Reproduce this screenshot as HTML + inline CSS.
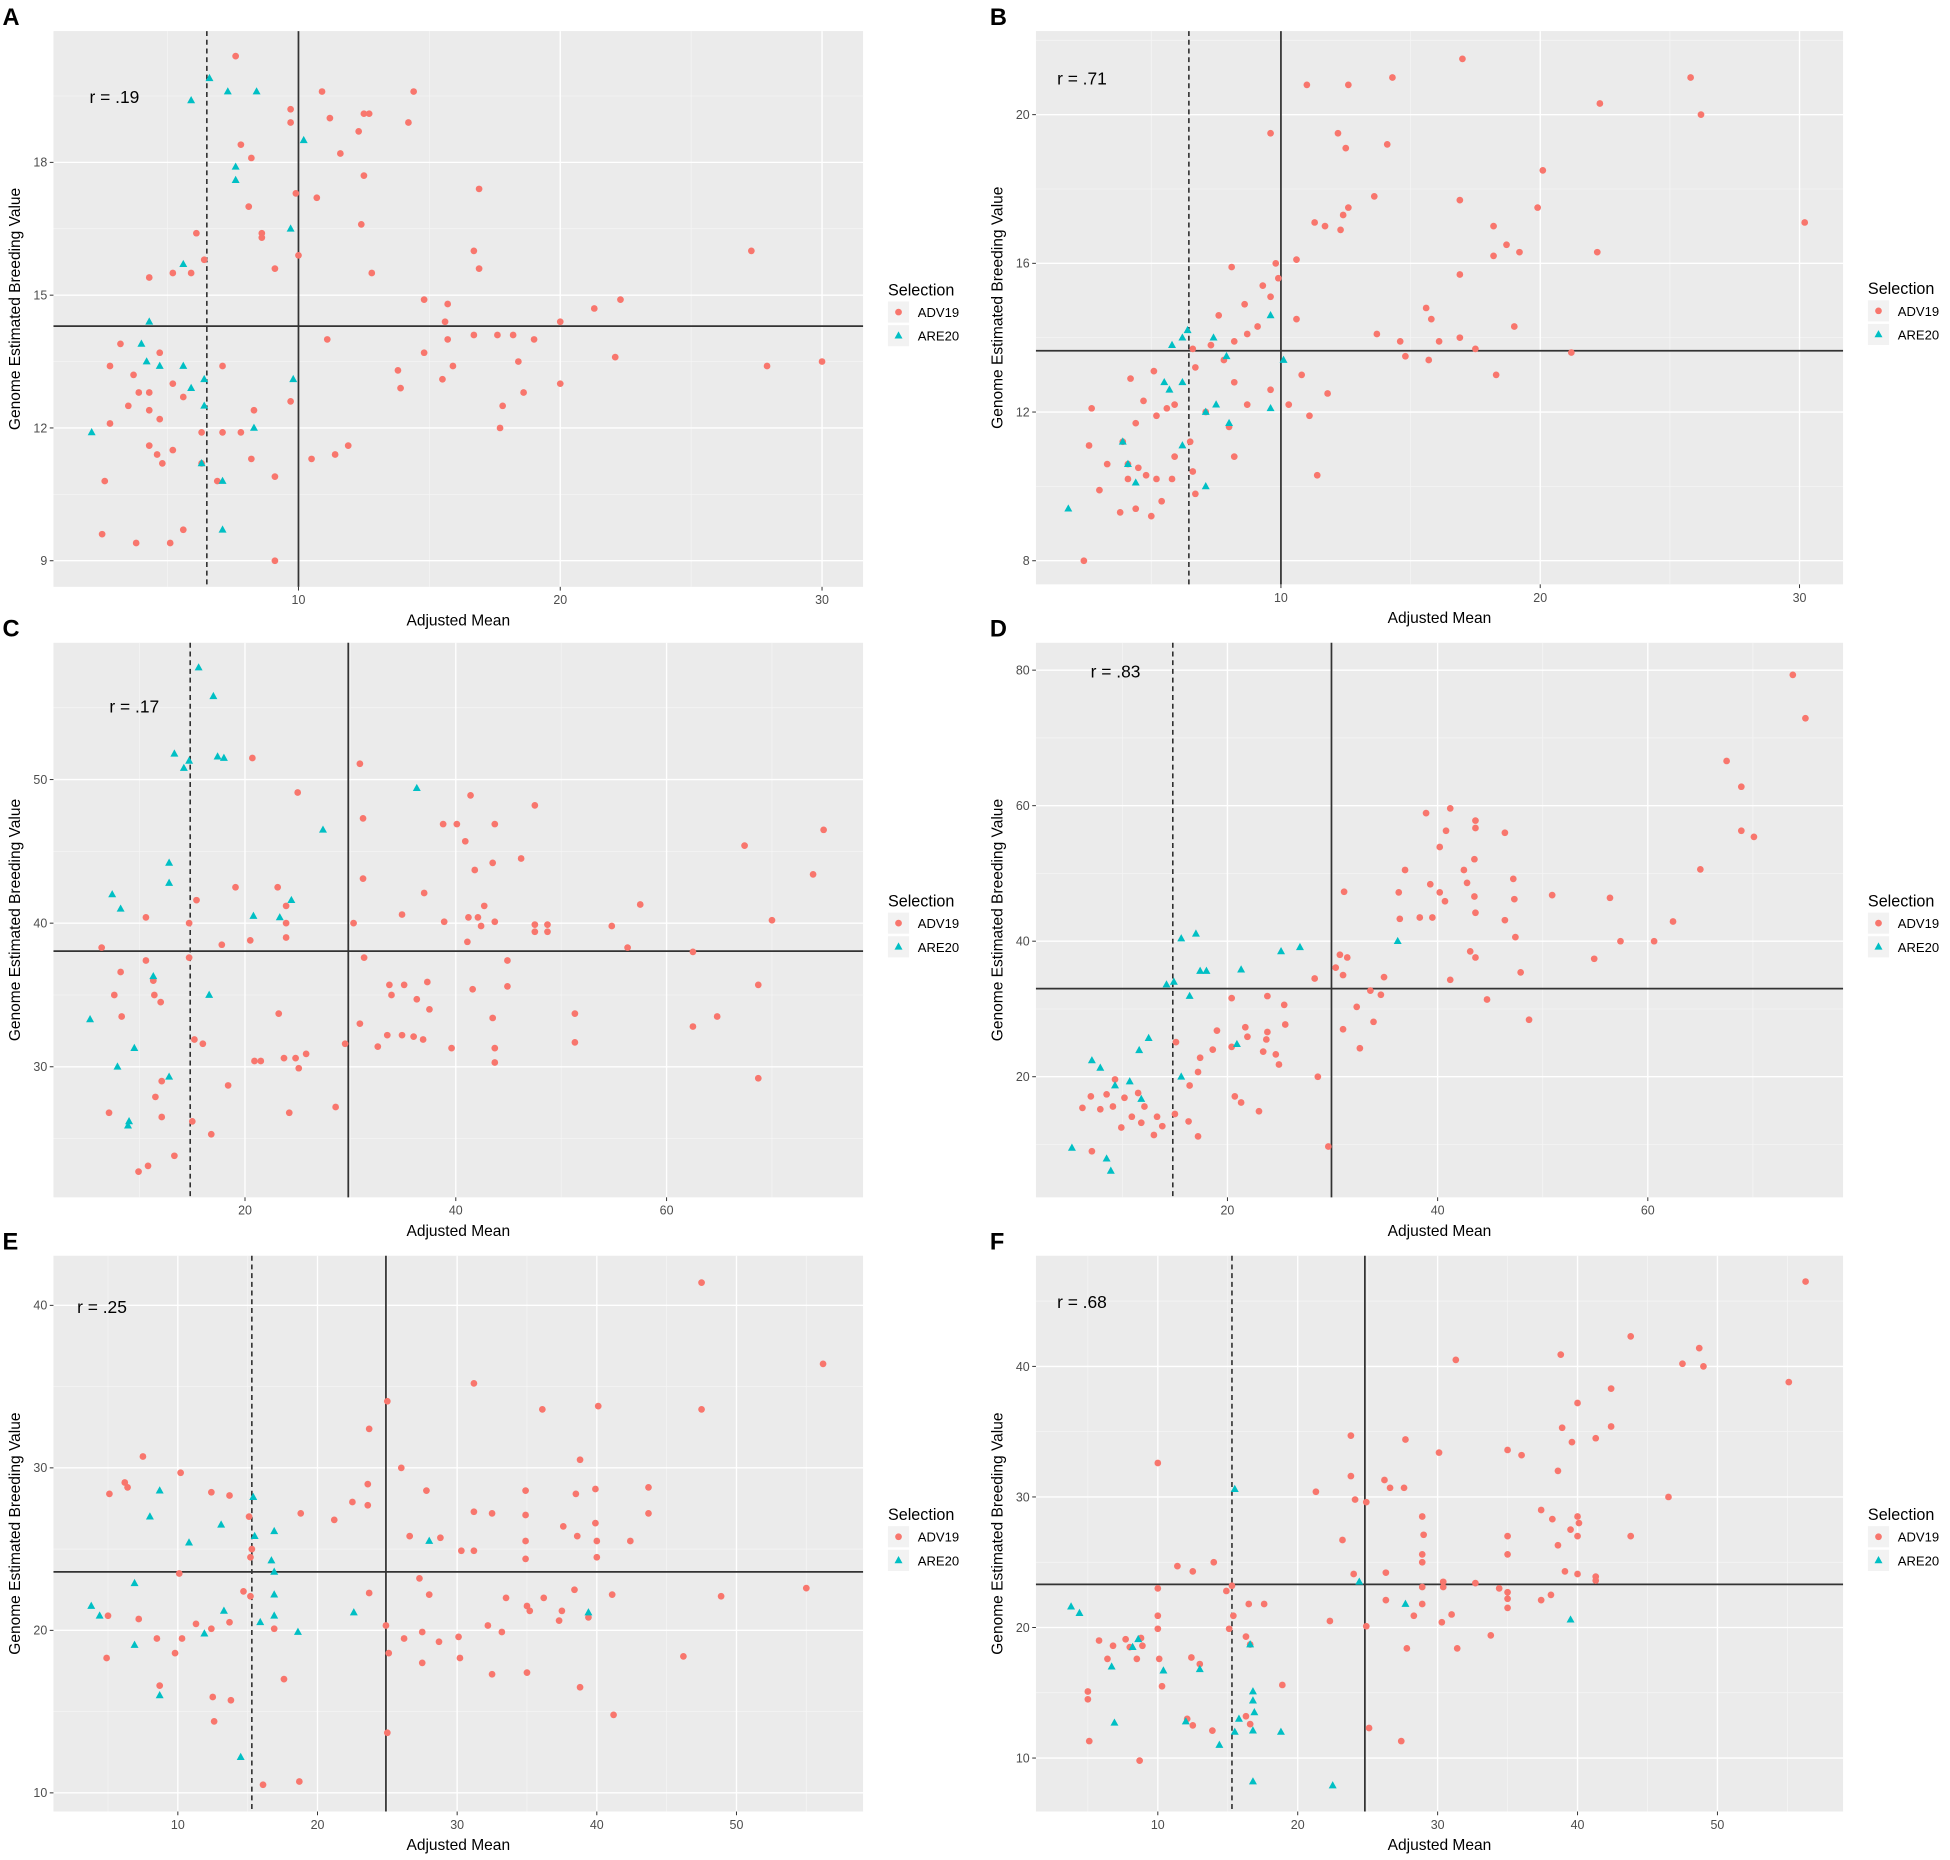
<!DOCTYPE html>
<html><head><meta charset="utf-8">
<style>
html,body{margin:0;padding:0;background:#fff;}
svg{display:block;font-family:"Liberation Sans",Arial,sans-serif;}
</style></head>
<body>
<svg id="fig" width="1950" height="1860" viewBox="0 0 1568 1496" preserveAspectRatio="none" xmlns="http://www.w3.org/2000/svg"></svg>
<script>
// ---------- DATA ----------
const A_adv=[[7.6,20.4],[10.9,19.6],[14.4,19.6],[12.5,19.1],[9.7,19.2],[11.2,19.0],[12.7,19.1],[12.3,18.7],[14.2,18.9],[7.8,18.4],[9.7,18.9],[11.6,18.2],[8.2,18.1],[9.9,17.3],[10.7,17.2],[16.9,17.4],[12.5,17.7],[8.1,17.0],[12.4,16.6],[8.6,16.4],[8.6,16.3],[6.1,16.4],[16.7,16.0],[27.3,16.0],[10,15.9],[16.9,15.6],[12.8,15.5],[9.1,15.6],[5.2,15.5],[4.3,15.4],[5.9,15.5],[6.4,15.8],[14.8,14.9],[15.7,14.8],[22.3,14.9],[21.3,14.7],[15.6,14.4],[20,14.4],[16.7,14.1],[17.6,14.1],[18.2,14.1],[19,14.0],[11.1,14.0],[15.7,14.0],[3.2,13.9],[4.7,13.7],[14.8,13.7],[13.8,13.3],[15.9,13.4],[18.4,13.5],[22.1,13.6],[27.9,13.4],[30,13.5],[15.5,13.1],[20,13.0],[13.9,12.9],[18.6,12.8],[7.1,13.4],[2.8,13.4],[3.7,13.2],[3.9,12.8],[4.3,12.8],[5.2,13.0],[3.5,12.5],[4.3,12.4],[5.6,12.7],[17.8,12.5],[17.7,12.0],[8.3,12.4],[9.7,12.6],[2.8,12.1],[4.7,12.2],[7.1,11.9],[7.8,11.9],[6.3,11.9],[11.9,11.6],[11.4,11.4],[10.5,11.3],[4.3,11.6],[4.6,11.4],[4.8,11.2],[5.2,11.5],[8.2,11.3],[9.1,10.9],[2.6,10.8],[6.3,11.2],[6.9,10.8],[2.5,9.6],[3.8,9.4],[5.1,9.4],[5.6,9.7],[9.1,9.0]];
const A_are=[[5.9,19.4],[6.6,19.9],[7.3,19.6],[8.4,19.6],[10.2,18.5],[7.6,17.9],[7.6,17.6],[9.7,16.5],[5.6,15.7],[4.3,14.4],[4,13.9],[4.2,13.5],[4.7,13.4],[5.6,13.4],[6.4,13.1],[5.9,12.9],[6.4,12.5],[2.1,11.9],[6.3,11.2],[7.1,10.8],[8.3,12.0],[9.8,13.1],[7.1,9.7]];
const B_adv=[[17.0,21.5],[25.8,21.0],[26.2,20.0],[11.0,20.8],[12.6,20.8],[14.3,21.0],[22.3,20.3],[9.6,19.5],[12.2,19.5],[12.5,19.1],[14.1,19.2],[20.1,18.5],[13.6,17.8],[16.9,17.7],[12.6,17.5],[12.4,17.3],[11.3,17.1],[11.7,17.0],[12.3,16.9],[19.9,17.5],[18.2,17.0],[30.2,17.1],[18.7,16.5],[18.2,16.2],[19.2,16.3],[22.2,16.3],[16.9,15.7],[10.6,16.1],[9.8,16.0],[9.9,15.6],[8.1,15.9],[9.3,15.4],[9.6,15.1],[10.6,14.5],[8.6,14.9],[9.1,14.3],[8.7,14.1],[7.6,14.6],[15.6,14.8],[15.8,14.5],[19.0,14.3],[13.7,14.1],[16.9,14.0],[17.5,13.7],[16.1,13.9],[14.6,13.9],[14.8,13.5],[15.7,13.4],[21.2,13.6],[18.3,13.0],[6.6,13.7],[7.3,13.8],[8.2,13.9],[7.8,13.4],[6.7,13.2],[8.2,12.8],[9.6,12.6],[10.3,12.2],[11.1,11.9],[11.8,12.5],[10.8,13.0],[8.7,12.2],[8.0,11.6],[7.1,12.0],[5.9,12.2],[5.6,12.1],[11.4,10.3],[8.2,10.8],[6.5,11.2],[5.9,10.8],[5.2,11.9],[4.7,12.3],[4.2,12.9],[5.1,13.1],[4.4,11.7],[3.9,11.2],[2.7,12.1],[2.6,11.1],[3.3,10.6],[4.1,10.6],[4.5,10.5],[4.8,10.3],[4.1,10.2],[5.2,10.2],[3.0,9.9],[3.8,9.3],[4.4,9.4],[5.0,9.2],[5.4,9.6],[5.8,10.2],[6.6,10.4],[6.7,9.8],[2.4,8.0]];
const B_are=[[5.8,13.8],[6.2,14.0],[6.4,14.2],[7.4,14.0],[7.9,13.5],[9.6,14.6],[10.1,13.4],[5.5,12.8],[5.7,12.6],[7.5,12.2],[7.1,12.0],[8.0,11.7],[9.6,12.1],[6.2,11.1],[7.1,10.0],[3.9,11.2],[4.1,10.6],[4.4,10.1],[1.8,9.4],[6.2,12.8]];
const C_adv=[[20.7,51.5],[30.9,51.1],[25.0,49.1],[31.2,47.3],[41.4,48.9],[47.5,48.2],[38.8,46.9],[40.1,46.9],[43.7,46.9],[74.9,46.5],[67.4,45.4],[40.9,45.7],[46.2,44.5],[43.5,44.2],[41.8,43.7],[73.9,43.4],[31.2,43.1],[19.1,42.5],[23.1,42.5],[37.0,42.1],[23.9,41.2],[15.4,41.6],[57.5,41.3],[42.7,41.2],[41.2,40.4],[42.1,40.4],[42.4,39.8],[34.9,40.6],[38.9,40.1],[43.7,40.1],[23.9,40.0],[30.3,40.0],[47.5,39.9],[48.7,39.9],[47.5,39.4],[48.7,39.4],[70.0,40.2],[10.6,40.4],[14.7,40.0],[20.5,38.8],[23.9,39.0],[17.8,38.5],[41.1,38.7],[54.8,39.8],[56.3,38.3],[6.4,38.3],[10.6,37.4],[14.7,37.6],[31.3,37.6],[44.9,37.4],[62.5,38.0],[8.2,36.6],[33.7,35.7],[35.1,35.7],[37.3,35.9],[41.6,35.4],[44.9,35.6],[68.7,35.7],[11.3,36.0],[7.6,35.0],[11.4,35.0],[12.0,34.5],[33.9,35.0],[36.3,34.7],[37.5,34.0],[23.2,33.7],[51.3,33.7],[64.8,33.5],[8.3,33.5],[43.5,33.4],[33.5,32.2],[34.9,32.2],[36.0,32.1],[36.9,31.9],[30.9,33.0],[39.6,31.3],[43.7,31.3],[51.3,31.7],[62.5,32.8],[23.7,30.6],[24.8,30.6],[25.8,30.9],[20.9,30.4],[21.5,30.4],[32.6,31.4],[43.7,30.3],[29.5,31.6],[15.2,31.9],[16.0,31.6],[25.1,29.9],[12.1,29.0],[68.7,29.2],[11.5,27.9],[18.4,28.7],[7.1,26.8],[24.2,26.8],[28.6,27.2],[15.0,26.2],[12.1,26.5],[16.8,25.3],[10.8,23.1],[9.9,22.7],[13.3,23.8]];
const C_are=[[15.6,57.8],[17.0,55.8],[13.3,51.8],[14.2,50.8],[14.7,51.3],[17.4,51.6],[18.0,51.5],[27.4,46.5],[36.3,49.4],[12.8,44.2],[12.8,42.8],[7.4,42.0],[8.2,41.0],[20.8,40.5],[24.4,41.6],[23.3,40.4],[11.3,36.3],[16.6,35.0],[5.3,33.3],[7.9,30.0],[9.5,31.3],[12.8,29.3],[9.0,26.2],[8.9,25.9]];
const D_adv=[[73.8,79.3],[75.0,72.9],[67.5,66.6],[68.9,62.8],[68.9,56.3],[70.1,55.4],[65.0,50.6],[41.2,59.6],[38.9,58.9],[43.6,57.8],[43.6,56.7],[46.4,56.0],[40.8,56.3],[40.2,53.9],[43.5,52.1],[42.5,50.5],[36.9,50.5],[50.9,46.8],[56.4,46.4],[47.2,49.2],[40.2,47.2],[40.7,45.9],[43.5,46.6],[42.8,48.6],[47.3,46.2],[36.3,47.2],[39.3,48.4],[43.6,44.2],[31.1,47.3],[46.4,43.1],[62.4,42.9],[57.4,40.0],[60.6,40.0],[36.4,43.3],[39.5,43.5],[38.3,43.5],[47.4,40.6],[43.1,38.5],[47.9,35.4],[43.6,37.6],[54.9,37.4],[44.7,31.4],[48.7,28.4],[41.2,34.3],[34.9,34.7],[30.3,36.1],[30.7,38.0],[31.4,37.6],[31.0,35.0],[33.6,32.7],[34.6,32.1],[32.3,30.3],[31.0,27.0],[32.6,24.2],[33.9,28.1],[28.3,34.5],[23.8,31.9],[25.4,30.6],[25.5,27.7],[23.8,26.6],[20.4,31.6],[21.7,27.3],[21.9,25.9],[23.7,25.5],[23.4,23.7],[24.6,23.3],[24.9,21.8],[20.4,24.4],[18.6,24.0],[19.0,26.8],[17.4,22.8],[17.2,20.7],[16.4,18.7],[15.1,25.1],[28.6,20.0],[20.7,17.1],[21.3,16.2],[23.0,14.9],[16.3,13.4],[15.0,14.5],[13.3,14.1],[13.8,12.7],[12.1,15.6],[11.5,17.6],[10.2,16.9],[9.3,19.6],[9.1,15.6],[7.9,15.2],[6.2,15.4],[7.0,17.1],[8.5,17.4],[9.9,12.5],[10.9,14.1],[11.8,13.2],[13.0,11.4],[17.2,11.2],[7.1,9.0],[29.6,9.7]];
const D_are=[[15.6,40.4],[17.0,41.1],[17.4,35.6],[18.0,35.6],[16.4,31.9],[14.2,33.6],[14.9,34.0],[12.5,25.7],[11.6,23.9],[7.1,22.4],[7.9,21.3],[9.3,18.7],[10.7,19.3],[11.8,16.7],[15.6,20.0],[21.3,35.8],[25.1,38.5],[26.9,39.1],[36.2,40.0],[20.9,24.8],[5.2,9.5],[8.5,7.9],[8.9,6.1]];
const E_adv=[[47.5,41.4],[56.2,36.4],[31.2,35.2],[47.5,33.6],[36.1,33.6],[40.1,33.8],[25.0,34.1],[23.7,32.4],[38.8,30.5],[26.0,30.0],[7.5,30.7],[10.2,29.7],[6.2,29.1],[6.4,28.8],[5.1,28.4],[12.4,28.5],[13.7,28.3],[27.8,28.6],[23.6,29.0],[34.9,28.6],[38.5,28.4],[39.9,28.7],[43.7,28.8],[18.8,27.2],[21.2,26.8],[22.5,27.9],[23.6,27.7],[31.2,27.3],[32.5,27.2],[34.9,27.1],[37.6,26.4],[39.9,26.6],[43.7,27.2],[15.1,27.0],[26.6,25.8],[28.8,25.7],[30.3,24.9],[31.2,24.9],[34.9,25.5],[38.6,25.8],[40.0,25.5],[42.4,25.5],[40.0,24.5],[34.9,24.4],[15.3,25.0],[15.2,24.5],[10.1,23.5],[27.3,23.2],[23.7,22.3],[28.0,22.2],[33.5,22.0],[36.2,22.0],[38.4,22.5],[41.1,22.2],[48.9,22.1],[55.0,22.6],[35.0,21.5],[35.2,21.2],[14.7,22.4],[15.2,22.1],[13.7,20.5],[11.3,20.4],[12.4,20.1],[16.9,20.1],[5.0,20.9],[7.2,20.7],[8.5,19.5],[10.3,19.5],[9.8,18.6],[24.9,20.3],[27.5,19.9],[26.2,19.5],[28.7,19.3],[30.1,19.6],[32.2,20.3],[33.2,19.9],[37.5,21.2],[37.3,20.6],[39.4,20.8],[25.1,18.6],[27.5,18.0],[30.2,18.3],[32.5,17.3],[35.0,17.4],[4.9,18.3],[8.7,16.6],[12.5,15.9],[13.8,15.7],[17.6,17.0],[38.8,16.5],[46.2,18.4],[41.2,14.8],[12.6,14.4],[25.0,13.7],[16.1,10.5],[18.7,10.7]];
const E_are=[[8.7,28.6],[8.0,27.0],[15.4,28.2],[16.9,26.1],[15.5,25.8],[16.7,24.3],[10.8,25.4],[13.1,26.5],[28.0,25.5],[6.9,22.9],[16.9,23.6],[16.9,22.2],[15.9,20.5],[16.9,20.9],[3.8,21.5],[4.4,20.9],[6.9,19.1],[11.9,19.8],[13.3,21.2],[18.6,19.9],[22.6,21.1],[8.7,16.0],[39.4,21.1],[14.5,12.2]];
const F_adv=[[56.3,46.5],[43.8,42.3],[48.7,41.4],[31.3,40.5],[38.8,40.9],[47.5,40.2],[49.0,40.0],[55.1,38.8],[42.4,38.3],[40.0,37.2],[23.8,34.7],[27.7,34.4],[38.9,35.3],[42.4,35.4],[41.3,34.5],[39.6,34.2],[36.0,33.2],[35.0,33.6],[30.1,33.4],[10.0,32.6],[23.8,31.6],[26.2,31.3],[26.6,30.7],[27.6,30.7],[38.6,32.0],[21.3,30.4],[46.5,30.0],[24.1,29.8],[24.9,29.6],[37.4,29.0],[38.2,28.3],[40.0,28.5],[28.9,28.5],[39.5,27.5],[40.1,28.0],[40.0,27.0],[35.0,27.0],[23.2,26.7],[43.8,27.0],[29.0,27.1],[38.6,26.3],[35.0,25.6],[28.9,25.6],[28.9,25.0],[39.1,24.3],[40.0,24.1],[41.3,23.9],[41.3,23.6],[30.4,23.5],[32.7,23.4],[34.4,23.0],[35.0,22.7],[38.1,22.5],[28.9,23.1],[24.0,24.1],[26.3,24.2],[11.4,24.7],[14.0,25.0],[12.5,24.3],[10.0,23.0],[14.9,22.8],[15.3,23.2],[30.4,23.1],[35.0,22.2],[35.0,21.5],[37.4,22.1],[26.3,22.1],[28.9,21.8],[28.3,20.9],[31.0,21.0],[30.3,20.4],[16.5,21.8],[17.6,21.8],[15.4,20.9],[15.1,19.9],[16.3,19.3],[22.3,20.5],[24.9,20.1],[10.0,20.9],[10.0,19.9],[8.8,19.2],[7.7,19.1],[5.8,19.0],[6.8,18.6],[8.0,18.5],[8.9,18.6],[6.4,17.6],[8.5,17.6],[10.1,17.6],[12.4,17.7],[13.0,17.2],[31.4,18.4],[27.8,18.4],[33.8,19.4],[16.6,18.7],[18.9,15.6],[5.0,15.1],[5.0,14.5],[10.3,15.5],[12.1,13.0],[12.5,12.5],[16.3,13.2],[16.6,12.6],[13.9,12.1],[25.1,12.3],[27.4,11.3],[5.1,11.3],[8.7,9.8]];
const F_are=[[3.8,21.6],[4.4,21.1],[15.5,30.6],[24.4,23.5],[27.7,21.8],[39.5,20.6],[8.6,19.1],[8.2,18.5],[6.7,17.0],[10.4,16.7],[13.0,16.8],[16.6,18.7],[16.8,15.1],[16.8,14.4],[16.9,13.5],[15.8,13.0],[15.5,12.0],[16.8,12.1],[18.8,12.0],[12.0,12.8],[14.4,11.0],[6.9,12.7],[16.8,8.2],[22.5,7.9]];
const A_xticks=[10,20,30], A_yticks=[9,12,15,18];
const B_xticks=[10,20,30], B_yticks=[8,12,16,20];
const C_xticks=[20,40,60], C_yticks=[30,40,50];
const D_xticks=[20,40,60], D_yticks=[20,40,60,80];
const E_xticks=[10,20,30,40,50], E_yticks=[10,20,30,40];
const F_xticks=[10,20,30,40,50], F_yticks=[10,20,30,40];
const A_lines=[6.5,10,14.3], B_lines=[6.45,10.0,13.65], C_lines=[14.8,29.8,38.05];
const D_lines=[14.8,29.9,33.0], E_lines=[15.3,24.9,23.6], F_lines=[15.3,24.8,23.3];
const rLabels=["r = .19","r = .71","r = .17","r = .83","r = .25","r = .68"];

// ---------- LAYOUT (axis functions) ----------
const panels=[
 {id:'A',box:[43,25,694,472],x0:29.5,xs:21.05,y0:9,yp:451,ys:35.6,adv:A_adv,are:A_are,xt:A_xticks,yt:A_yticks,ln:A_lines,r:[72,78]},
 {id:'B',box:[833,25,1482,470],x0:821.5,xs:20.85,y0:8,yp:451,ys:29.9,adv:B_adv,are:B_are,xt:B_xticks,yt:B_yticks,ln:B_lines,r:[850,63]},
 {id:'C',box:[43,517,694,963],x0:27.5,xs:8.475,y0:30,yp:858,ys:11.55,adv:C_adv,are:C_are,xt:C_xticks,yt:C_yticks,ln:C_lines,r:[88,568]},
 {id:'D',box:[833,517,1482,963],x0:818,xs:8.45,y0:20,yp:866,ys:5.45,adv:D_adv,are:D_are,xt:D_xticks,yt:D_yticks,ln:D_lines,r:[877,540]},
 {id:'E',box:[43,1010,694,1457],x0:30.7,xs:11.23,y0:10,yp:1442,ys:13.07,adv:E_adv,are:E_are,xt:E_xticks,yt:E_yticks,ln:E_lines,r:[62,1051]},
 {id:'F',box:[833,1010,1482,1457],x0:818.5,xs:11.25,y0:10,yp:1414,ys:10.5,adv:F_adv,are:F_are,xt:F_xticks,yt:F_yticks,ln:F_lines,r:[850,1047]}
];
const NS='http://www.w3.org/2000/svg';
const svg=document.getElementById('fig');
function mk(tag,attrs,parent){const e=document.createElementNS(NS,tag);for(const k in attrs)e.setAttribute(k,attrs[k]);(parent||svg).appendChild(e);return e;}

panels.forEach((p,pi)=>{
 const sx=v=>p.x0+v*p.xs;
 const sy=v=>p.yp-(v-p.y0)*p.ys;
 const [L,T,R,B]=p.box;
 const g=mk('g',{});
 
 
 const bg=mk('rect',{x:L,y:T,width:R-L,height:B-T,fill:'#EBEBEB'},g);
 
 
 const dx=p.xt[1]-p.xt[0], dy=p.yt[1]-p.yt[0];
 // minor grid
 for(let v=p.xt[0]-dx*1.5;v<=p.xt[p.xt.length-1]+dx*1.5;v+=dx){const x=sx(v);if(x>L&&x<R){const l=mk('line',{x1:x,x2:x,y1:T,y2:B,stroke:'#F5F5F5','stroke-width':0.6},g);}}
 for(let v=p.yt[0]-dy*1.5;v<=p.yt[p.yt.length-1]+dy*1.5;v+=dy){const y=sy(v);if(y>T&&y<B){const l=mk('line',{x1:L,x2:R,y1:y,y2:y,stroke:'#F5F5F5','stroke-width':0.6},g);}}
 p.xt.forEach(v=>{const x=sx(v);
  const l=mk('line',{x1:x,x2:x,y1:T,y2:B,stroke:'#fff','stroke-width':1.1},g);
  
  mk('line',{x1:x,x2:x,y1:B,y2:B+3,stroke:'#333','stroke-width':0.8},g);
  const t=mk('text',{x:x,y:B+14,'font-size':10,fill:'#4D4D4D','text-anchor':'middle'},g);t.textContent=v;
  });
 p.yt.forEach(v=>{const y=sy(v);
  const l=mk('line',{x1:L,x2:R,y1:y,y2:y,stroke:'#fff','stroke-width':1.1},g);
  
  mk('line',{x1:L-3,x2:L,y1:y,y2:y,stroke:'#333','stroke-width':0.8},g);
  const t=mk('text',{x:L-5,y:y+3.5,'font-size':10,fill:'#4D4D4D','text-anchor':'end'},g);t.textContent=v;
  });
 // reference lines
 const dl=mk('line',{x1:sx(p.ln[0]),x2:sx(p.ln[0]),y1:T,y2:B,stroke:'#222','stroke-width':1.2,'stroke-dasharray':'4,3'},g);
 
 const vl=mk('line',{x1:sx(p.ln[1]),x2:sx(p.ln[1]),y1:T,y2:B,stroke:'#333','stroke-width':1.4},g);
 
 const hl=mk('line',{x1:L,x2:R,y1:sy(p.ln[2]),y2:sy(p.ln[2]),stroke:'#333','stroke-width':1.4},g);
 
 // points
 p.adv.forEach(d=>{const c=mk('circle',{cx:sx(d[0]),cy:sy(d[1]),r:2.7,fill:'#F8766D'},g);
  });
 p.are.forEach(d=>{const x=sx(d[0]),y=sy(d[1]);
  const t=mk('polygon',{points:`${x},${y-3.5} ${x-3.2},${y+2.3} ${x+3.2},${y+2.3}`,fill:'#00BFC4'},g);
  });
 // r label
 const rl=mk('text',{x:p.r[0],y:p.r[1]+5,'font-size':14,fill:'#000'},g);rl.textContent=rLabels[pi];
 
 // axis titles
 const xt=mk('text',{x:(L+R)/2,y:B+31,'font-size':12.5,fill:'#000','text-anchor':'middle'},g);xt.textContent='Adjusted Mean';
 
 const ycx=L-27, ycy=(T+B)/2;
 const yt=mk('text',{x:ycx,y:ycy,'font-size':12.5,fill:'#000','text-anchor':'middle',transform:`rotate(-90 ${ycx} ${ycy})`},g);yt.textContent='Genome Estimated Breeding Value';
 
 // panel letter
 const pl=mk('text',{x:L<400?2:796,y:T-5+(pi<2?0:0),'font-size':19,'font-weight':'bold',fill:'#000'},g);pl.textContent=p.id;
 
 // legend
 const lx=R+20, ly=(T+B)/2;
 const lg=mk('g',{},g);
 
 const lt=mk('text',{x:lx,y:ly-11,'font-size':13,fill:'#000'},lg);lt.textContent='Selection';
 
 const k1=mk('rect',{x:lx,y:ly-6,width:17,height:17,fill:'#F2F2F2'},lg);
 
 mk('circle',{cx:lx+8.5,cy:ly+2.5,r:2.7,fill:'#F8766D'},lg);
 const e1=mk('text',{x:lx+24,y:ly+6.5,'font-size':10.5,fill:'#000'},lg);e1.textContent='ADV19';
 
 const k2=mk('rect',{x:lx,y:ly+13,width:17,height:17,fill:'#F2F2F2'},lg);
 
 const cx2=lx+8.5, cy2=ly+21.5;
 mk('polygon',{points:`${cx2},${cy2-3.5} ${cx2-3.2},${cy2+2.3} ${cx2+3.2},${cy2+2.3}`,fill:'#00BFC4'},lg);
 const e2=mk('text',{x:lx+24,y:ly+25.5,'font-size':10.5,fill:'#000'},lg);e2.textContent='ARE20';
 
});
</script>
</body></html>
